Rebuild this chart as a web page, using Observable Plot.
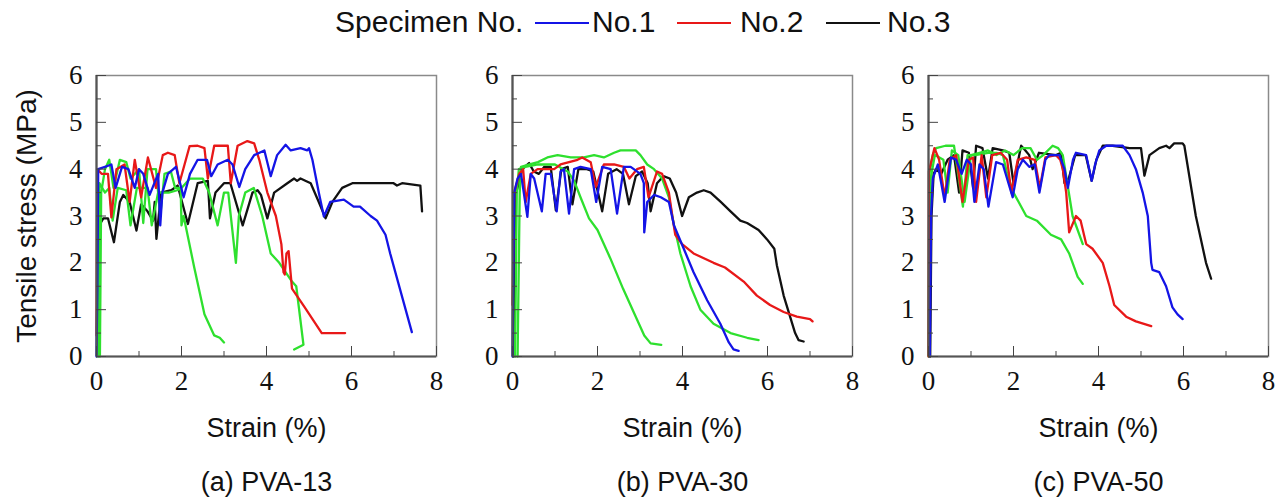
<!DOCTYPE html>
<html><head><meta charset="utf-8">
<script src="https://cdn.jsdelivr.net/npm/d3@7"></script>
<script src="https://cdn.jsdelivr.net/npm/@observablehq/plot@0.6"></script>
<style>
body{margin:0;background:#fff;width:1285px;height:499px;overflow:hidden}
#legend{position:relative;height:45px;font-family:"Liberation Sans",Arial,sans-serif;font-size:30px;color:#111}
#legend span{position:absolute;top:7px;line-height:1;white-space:nowrap}
#legend i{position:absolute;top:22px;height:0;border-top:2.5px solid}
#chart svg{overflow:visible}
</style></head><body>
<div id="legend"></div>
<div id="chart"></div>
<script>
// ---- categories / labels ----
const panels = ["a", "b", "c"];
const captions = ["(a) PVA-13", "(b) PVA-30", "(c) PVA-50"];
const legendTitle = "Specimen No.";
const specimens = ["No.1", "No.2", "No.3"];
const extraSeries = ["G1", "G2"];
const xTicks = [0, 2, 4, 6, 8];
const xMinor = [1, 3, 5, 7];
const yTicks = [0, 1, 2, 3, 4, 5, 6];
const yMinor = [0.5, 1.5, 2.5, 3.5, 4.5, 5.5];
const xTitle = "Strain (%)";
const yTitle = "Tensile stress (MPa)";

// ---- panel (a) PVA-13 : [strain %, stress MPa] ----
const a1 = [[0,0],[0.02,1.4],[0.04,4.0],[0.2,4.05],[0.35,4.1],[0.45,3.6],[0.6,4.05],[0.75,4.0],[0.9,3.6],[1.0,4.0],[1.1,3.9],[1.25,3.45],[1.45,3.9],[1.5,2.8],[1.55,3.5],[1.68,3.9],[1.87,4.05],[2.05,3.4],[2.2,3.9],[2.38,4.2],[2.6,4.2],[2.7,3.85],[2.85,4.1],[3.09,4.2],[3.2,4.1],[3.36,3.62],[3.5,4.0],[3.71,4.3],[3.95,4.4],[4.1,3.85],[4.25,4.3],[4.45,4.52],[4.57,4.4],[4.8,4.45],[4.96,4.4],[5.0,4.45],[5.08,4.2],[5.23,3.5],[5.35,2.99],[5.5,3.3],[5.82,3.35],[6.05,3.2],[6.2,3.2],[6.45,3.0],[6.6,2.9],[6.8,2.6],[6.91,2.2],[7.42,0.52]];
const a2 = [[0,0.45],[0.02,4.0],[0.12,3.9],[0.27,3.9],[0.35,2.97],[0.47,4.0],[0.66,4.1],[0.78,3.3],[0.9,4.2],[1.05,3.4],[1.21,4.25],[1.4,3.6],[1.56,4.3],[1.68,4.35],[1.84,4.3],[1.95,3.7],[2.19,4.49],[2.38,4.5],[2.54,4.45],[2.62,3.8],[2.77,4.5],[3.09,4.5],[3.16,3.7],[3.32,4.5],[3.55,4.6],[3.71,4.55],[3.83,4.2],[4.02,3.5],[4.22,3.0],[4.35,2.4],[4.4,1.8],[4.43,1.75],[4.47,2.2],[4.52,2.25],[4.6,1.45],[4.9,1.05],[5.3,0.5],[5.85,0.5]];
const a3 = [[0.02,2.5],[0.04,2.76],[0.16,2.95],[0.27,2.95],[0.41,2.44],[0.55,3.3],[0.63,3.45],[0.78,3.3],[0.94,2.69],[1.05,3.25],[1.2,3.1],[1.33,2.9],[1.37,3.3],[1.41,2.51],[1.52,3.5],[1.76,3.55],[1.91,3.65],[2.15,2.83],[2.38,3.7],[2.62,3.75],[2.67,2.95],[2.8,3.5],[3.0,3.7],[3.15,3.7],[3.44,2.8],[3.67,3.5],[3.79,3.55],[3.87,3.45],[4.02,2.95],[4.18,3.5],[4.49,3.7],[4.65,3.8],[4.72,3.75],[4.8,3.8],[5.04,3.7],[5.23,3.3],[5.39,2.95],[5.55,3.3],[5.78,3.6],[6.02,3.7],[6.99,3.7],[7.07,3.65],[7.19,3.7],[7.62,3.65],[7.66,3.1]];
const a4 = [[0.04,0],[0.07,3.7],[0.2,3.5],[0.3,3.6],[0.38,2.9],[0.5,3.6],[0.7,3.55],[0.8,2.8],[0.95,3.6],[1.2,3.6],[1.3,2.8],[1.45,3.5],[1.7,3.5],[1.9,3.55],[1.98,3.6],[2.0,2.8],[2.05,3.0],[2.3,1.9],[2.54,0.9],[2.77,0.45],[2.9,0.4],[3.0,0.3]];
const a5 = [[0.08,0],[0.11,3.5],[0.2,4.0],[0.3,4.2],[0.4,3.6],[0.55,4.2],[0.7,4.15],[0.8,3.8],[1.0,4.0],[1.1,2.85],[1.2,4.0],[1.4,4.0],[1.5,3.0],[1.6,3.9],[1.75,3.95],[1.85,3.6],[2.0,3.6],[2.2,3.8],[2.5,3.8],[2.65,3.5],[2.85,2.8],[3.0,3.5],[3.1,3.5],[3.28,2.0],[3.35,3.0],[3.5,3.5],[3.7,3.6],[3.9,3.0],[4.1,2.2],[4.3,2.0],[4.6,1.6],[4.7,1.5],[4.87,0.25],[4.65,0.15]];

// ---- panel (b) PVA-30 ----
const b1 = [[0,0],[0.01,1.1],[0.04,3.5],[0.12,3.8],[0.2,3.9],[0.35,2.98],[0.43,3.9],[0.51,3.8],[0.69,3.1],[0.78,3.9],[0.9,3.9],[1.04,3.1],[1.13,3.95],[1.21,4.0],[1.33,3.05],[1.45,4.0],[1.6,4.05],[1.84,4.0],[1.97,3.3],[2.11,4.05],[2.31,4.0],[2.46,3.05],[2.62,4.05],[2.78,4.05],[3.01,3.9],[3.09,3.7],[3.1,2.65],[3.17,3.3],[3.33,3.45],[3.49,3.4],[3.68,3.3],[3.8,2.8],[4.03,2.3],[4.26,1.8],[4.58,1.2],[4.89,0.7],[5.09,0.3],[5.2,0.15],[5.32,0.12]];
const b2 = [[0,1.1],[0.04,3.5],[0.16,3.9],[0.25,4.0],[0.31,3.3],[0.43,3.9],[0.59,4.0],[0.98,4.0],[1.13,4.1],[1.53,4.2],[1.64,4.25],[1.84,4.15],[1.96,3.62],[2.15,4.1],[2.39,4.1],[2.62,4.05],[2.75,3.8],[2.93,4.0],[3.09,4.05],[3.2,3.4],[3.4,3.95],[3.52,3.9],[3.68,3.5],[3.76,3.0],[3.83,2.6],[3.99,2.4],[4.26,2.2],[4.73,2.0],[5.0,1.9],[5.44,1.6],[5.75,1.3],[6.06,1.1],[6.38,0.95],[6.69,0.85],[7.0,0.8],[7.06,0.75]];
const b3 = [[0.02,0],[0.05,2.5],[0.08,3.47],[0.23,4.0],[0.39,4.13],[0.5,3.95],[0.62,3.9],[0.75,4.05],[0.9,4.05],[1.02,3.12],[1.15,4.0],[1.3,4.05],[1.41,3.25],[1.55,4.0],[1.75,4.0],[1.9,3.95],[2.11,3.1],[2.25,3.9],[2.45,4.0],[2.6,3.9],[2.74,3.25],[2.9,3.85],[3.05,3.95],[3.18,3.7],[3.25,3.1],[3.4,3.7],[3.55,3.85],[3.7,3.8],[3.85,3.5],[3.99,3.0],[4.15,3.4],[4.34,3.5],[4.5,3.55],[4.66,3.5],[4.9,3.3],[5.13,3.1],[5.36,2.9],[5.52,2.85],[5.79,2.7],[5.99,2.5],[6.16,2.3],[6.22,1.95],[6.38,1.3],[6.65,0.5],[6.73,0.35],[6.85,0.32]];
const b4 = [[0.12,0],[0.17,3.5],[0.2,4.05],[0.4,4.1],[0.6,4.15],[0.82,4.25],[1.06,4.3],[1.37,4.25],[1.68,4.25],[1.92,4.3],[2.15,4.25],[2.39,4.35],[2.54,4.4],[2.9,4.4],[3.01,4.3],[3.17,4.1],[3.33,4.0],[3.52,3.8],[3.68,3.4],[3.8,2.8],[3.95,2.2],[4.19,1.5],[4.42,1.0],[4.73,0.7],[5.13,0.5],[5.52,0.4],[5.79,0.35]];
const b5 = [[0.06,0],[0.1,3.5],[0.15,4.0],[0.3,4.05],[0.6,4.1],[1.0,4.1],[1.2,4.0],[1.3,3.95],[1.45,3.75],[1.6,3.4],[1.8,2.95],[2.0,2.7],[2.3,2.1],[2.6,1.45],[2.9,0.85],[3.1,0.45],[3.25,0.28],[3.5,0.25]];

// ---- panel (c) PVA-50 ----
const c1 = [[0.03,0],[0.06,3.0],[0.1,3.8],[0.22,4.1],[0.38,3.3],[0.53,4.25],[0.65,4.2],[0.78,3.9],[0.9,4.2],[1.0,4.1],[1.08,3.3],[1.2,4.1],[1.3,4.0],[1.41,3.2],[1.59,4.15],[1.75,4.1],[1.98,3.4],[2.1,4.0],[2.22,4.2],[2.37,4.05],[2.5,4.1],[2.61,3.5],[2.75,4.2],[2.84,4.3],[3.08,4.3],[3.2,4.0],[3.28,3.6],[3.4,4.2],[3.47,4.35],[3.71,4.3],[3.84,3.75],[3.92,4.1],[4.02,4.4],[4.18,4.5],[4.41,4.5],[4.57,4.5],[4.73,4.3],[4.88,4.0],[5.04,3.5],[5.16,3.0],[5.24,2.0],[5.27,1.85],[5.43,1.8],[5.59,1.5],[5.74,1.05],[5.86,0.9],[5.98,0.8]];
const c2 = [[0,0],[0.01,3.95],[0.14,4.45],[0.25,4.2],[0.38,3.4],[0.5,4.2],[0.65,4.3],[0.8,3.3],[0.95,4.2],[1.05,4.25],[1.12,3.3],[1.25,4.3],[1.36,3.4],[1.5,4.3],[1.7,4.35],[1.85,4.2],[1.95,3.5],[2.1,4.2],[2.3,4.25],[2.5,4.2],[2.62,3.6],[2.75,4.25],[3.0,4.3],[3.1,4.2],[3.16,4.0],[3.24,3.5],[3.31,2.65],[3.47,3.0],[3.58,2.9],[3.71,2.4],[3.86,2.3],[4.1,2.0],[4.26,1.5],[4.37,1.1],[4.65,0.85],[4.88,0.75],[5.24,0.65]];
const c3 = [[0.04,0],[0.07,3.0],[0.12,3.9],[0.18,4.0],[0.3,3.9],[0.45,4.2],[0.6,4.3],[0.72,3.5],[0.8,4.4],[0.95,4.35],[1.05,3.6],[1.12,4.5],[1.27,4.45],[1.4,3.8],[1.51,4.45],[1.75,4.4],[1.9,4.35],[2.0,3.7],[2.18,4.5],[2.28,4.4],[2.37,4.3],[2.45,4.0],[2.6,4.35],[3.0,4.3],[3.12,4.35],[3.2,3.7],[3.3,3.8],[3.45,4.3],[3.7,4.3],[3.84,3.75],[3.95,4.2],[4.1,4.5],[4.33,4.5],[4.73,4.45],[5.0,4.45],[5.08,3.86],[5.2,4.3],[5.43,4.45],[5.59,4.5],[5.67,4.45],[5.78,4.55],[5.98,4.55],[6.02,4.5],[6.29,3.0],[6.53,2.0],[6.65,1.66]];
const c4 = [[0,0],[0.02,3.9],[0.1,4.3],[0.18,4.45],[0.4,4.5],[0.6,4.5],[0.81,3.2],[0.92,4.3],[1.1,4.3],[1.4,4.35],[1.6,4.35],[1.75,4.3],[1.85,3.9],[2.0,3.5],[2.3,3.0],[2.55,2.9],[2.88,2.6],[3.12,2.5],[3.31,2.2],[3.51,1.7],[3.63,1.55]];
const c5 = [[0.02,0],[0.05,3.8],[0.15,4.3],[0.35,4.2],[0.45,3.5],[0.55,4.4],[0.7,4.3],[0.85,3.3],[1.0,4.3],[1.2,4.35],[1.4,4.4],[1.6,4.3],[1.8,4.4],[2.0,4.3],[2.2,4.45],[2.4,4.45],[2.55,4.2],[2.7,4.3],[2.92,4.5],[3.05,4.45],[3.16,4.3],[3.39,3.0],[3.63,2.4]];

// ---- colours ----
const seriesColors = ["#1414e6", "#e81818", "#111111", "#2ee02e", "#2ee02e"];

// ---- build table (draw order: black, greens, red, blue) ----
const seriesByPanel = {a: [a1, a2, a3, a4, a5], b: [b1, b2, b3, b4, b5], c: [c1, c2, c3, c4, c5]};
const seriesNames = [...specimens, ...extraSeries];
const drawOrder = [2, 3, 4, 1, 0];
const rows = [];
for (const p of panels) {
  for (const k of drawOrder) {
    for (const [x, y] of seriesByPanel[p][k]) rows.push({panel: p, spec: seriesNames[k], x, y});
  }
}

// ---- legend ----
const legend = document.getElementById("legend");
const legendLayout = [{t: legendTitle, x: 335}];
const swatchX = [535, 677, 826];
const labelX = [592, 740, 887];
specimens.forEach((s, i) => {
  const line = document.createElement("i");
  line.style.left = swatchX[i] + "px"; line.style.width = "54px"; line.style.borderColor = seriesColors[i];
  legend.appendChild(line);
  legendLayout.push({t: s, x: labelX[i]});
});
for (const L of legendLayout) {
  const sp = document.createElement("span");
  sp.textContent = L.t; sp.style.left = L.x + "px";
  legend.appendChild(sp);
}

// ---- chart ----
const sans = "Liberation Sans";
const serif = "Liberation Serif";
const chart = Plot.plot({
  width: 1285,
  height: 454,
  marginLeft: 95,
  marginRight: 17,
  marginTop: 30,
  marginBottom: 143,
  style: "background:white;overflow:visible;font-family:'Liberation Sans',sans-serif;",
  x: {domain: [0, 8], axis: null},
  y: {domain: [0, 6], axis: null},
  fx: {domain: panels, paddingInner: 0.1837, paddingOuter: 0, axis: null},
  color: {domain: seriesNames, range: seriesColors},
  marks: [
    Plot.frame({stroke: "#8a8a8a", strokeWidth: 1.5}),
    Plot.line(rows, {fx: "panel", x: "x", y: "y", z: "spec", stroke: "spec", strokeWidth: 2.3, strokeLinejoin: "round"}),
    Plot.ruleX([0], {stroke: "#555", strokeWidth: 2.2}),
    Plot.ruleY([0], {stroke: "#555", strokeWidth: 2.2}),
    // inward ticks
    Plot.axisX({ticks: xTicks, tickSize: 10, dy: -10, fill: "none", stroke: "#444", label: null}),
    Plot.axisX({ticks: xMinor, tickSize: 5, dy: -5, fill: "none", stroke: "#444", label: null}),
    Plot.axisY({ticks: yTicks, tickSize: 10, dx: 10, fill: "none", stroke: "#444", label: null, facetAnchor: null}),
    Plot.axisY({ticks: yMinor, tickSize: 5, dx: 5, fill: "none", stroke: "#444", label: null, facetAnchor: null}),
    // tick labels (serif), repeated in every panel
    Plot.text(xTicks, {x: d => d, text: d => String(d), frameAnchor: "bottom", lineAnchor: "top", dy: 14, fontSize: 27, fontFamily: serif, fill: "#111"}),
    Plot.text(yTicks, {y: d => d, text: d => String(d), frameAnchor: "left", textAnchor: "end", dx: -14, fontSize: 27, fontFamily: serif, fill: "#111"}),
    // titles
    Plot.text(panels, {fx: d => d, text: () => xTitle, frameAnchor: "bottom", dy: 80, fontSize: 27, fontFamily: sans, fill: "#111"}),
    Plot.text(panels, {fx: d => d, text: (d, i) => captions[i], frameAnchor: "bottom", dy: 134, fontSize: 27, fontFamily: sans, fill: "#111"}),
    Plot.text([panels[0]], {fx: d => d, text: () => yTitle, frameAnchor: "left", textAnchor: "middle", rotate: -90, dx: -69, fontSize: 28, fontFamily: sans, fill: "#111"})
  ]
});
document.getElementById("chart").appendChild(chart);
</script>
</body></html>
